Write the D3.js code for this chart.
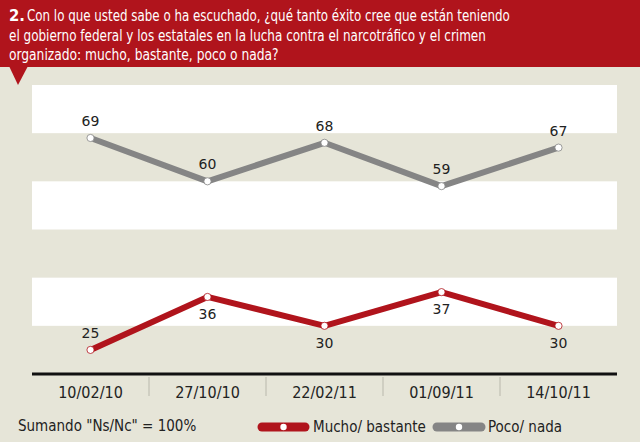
<!DOCTYPE html>
<html>
<head>
<meta charset="utf-8">
<script src="https://cdn.jsdelivr.net/npm/d3@7"></script>
<style>
  body { margin: 0; background: #e6e5d8; }
  svg { display: block; }
</style>
</head>
<body>
<div id="chart"></div>
<script>
(function() {
    const width = 640;
    const height = 442;
    const margin = { top: 85, right: 23, bottom: 68, left: 32 };

    // Données
    const dates = ["10/02/10", "27/10/10", "22/02/11", "01/09/11", "14/10/11"];
    const poco = [69, 60, 68, 59, 67];
    const mucho = [25, 36, 30, 37, 30];
    const muchoLabelBelow = [false, true, true, true, true];
    const bandStarts = [70, 50, 30];

    const titleLines = [
        { x: 27, text: "Con lo que usted sabe o ha escuchado, ¿qué tanto éxito cree que están teniendo", w: 483 },
        { x: 9, text: "el gobierno federal y los estatales en la lucha contra el narcotráfico y el crimen", w: 477 },
        { x: 9, text: "organizado: mucho, bastante, poco o nada?", w: 270 }
    ];

    const red = "#b0141c";
    const gray = "#858585";
    const bg = "#e6e5d8";
    const narrow = "'Liberation Sans Narrow', 'DejaVu Sans Condensed', sans-serif";

    const svg = d3.select("#chart").append("svg")
        .attr("width", width).attr("height", height);

    svg.append("rect").attr("width", width).attr("height", height).attr("fill", bg);

    // En-tête rouge
    svg.append("rect").attr("width", width).attr("height", 67).attr("fill", red);
    svg.append("path").attr("d", "M9,66 L28,66 L18,85 Z").attr("fill", red);

    svg.append("text")
        .attr("x", 9).attr("y", 21)
        .attr("fill", "#fff").attr("font-family", narrow)
        .attr("font-size", "16.5px").attr("font-weight", "bold")
        .text("2.");

    // Titre : compressé horizontalement pour coller à la largeur d'origine
    svg.selectAll(".title")
        .data(titleLines)
        .join("text")
        .attr("class", "title")
        .attr("fill", "#fff")
        .attr("font-family", narrow)
        .attr("font-size", "16.5px")
        .text(d => d.text)
        .each(function(d, i) {
            const natural = this.getComputedTextLength();
            d3.select(this).attr("transform",
                `translate(${d.x},${21 + i * 19.5}) scale(${d.w / natural},1)`);
        });

    const x = d3.scaleBand().domain(dates).range([margin.left, width - margin.right]);
    const y = d3.scaleLinear().domain([20, 80]).range([height - margin.bottom, margin.top]);

    // Bandes blanches
    svg.selectAll(".band")
        .data(bandStarts)
        .join("rect")
        .attr("class", "band")
        .attr("x", margin.left)
        .attr("width", width - margin.right - margin.left)
        .attr("y", d => y(d + 10))
        .attr("height", d => y(d) - y(d + 10))
        .attr("fill", "#fff");

    // Axe
    const axisY = y(20);
    const xAxis = svg.append("g")
        .attr("transform", `translate(0,${axisY})`)
        .call(d3.axisBottom(x).tickSize(0).tickPadding(13));
    xAxis.select(".domain").attr("stroke", "#111").attr("stroke-width", 3)
        .attr("d", `M${margin.left},0H${width - margin.right}`);
    xAxis.selectAll("text")
        .attr("font-family", narrow).attr("font-size", "16px").attr("fill", "#222");

    // Séparateurs
    svg.selectAll(".sep")
        .data(dates.slice(1))
        .join("line")
        .attr("class", "sep")
        .attr("x1", d => x(d)).attr("x2", d => x(d))
        .attr("y1", axisY + 3).attr("y2", axisY + 22)
        .attr("stroke", "#b9b8ac").attr("stroke-width", 1);

    const line = d3.line()
        .x((d, i) => x(dates[i]) + x.bandwidth() / 2)
        .y(d => y(d));

    function drawSeries(values, color, below) {
        svg.append("path")
            .datum(values)
            .attr("fill", "none")
            .attr("stroke", color)
            .attr("stroke-width", 6)
            .attr("stroke-linejoin", "round")
            .attr("stroke-linecap", "round")
            .attr("d", line);

        svg.selectAll(null)
            .data(values)
            .join("circle")
            .attr("cx", (d, i) => x(dates[i]) + x.bandwidth() / 2)
            .attr("cy", d => y(d))
            .attr("r", 3.6)
            .attr("fill", "#fff")
            .attr("stroke", color)
            .attr("stroke-width", 0.8);

        svg.selectAll(null)
            .data(values)
            .join("text")
            .attr("x", (d, i) => x(dates[i]) + x.bandwidth() / 2)
            .attr("y", (d, i) => y(d) + (below[i] ? 22 : -12))
            .attr("text-anchor", "middle")
            .attr("font-family", "'DejaVu Sans', sans-serif")
            .attr("font-size", "14px")
            .attr("fill", "#222")
            .text(d => d);
    }

    drawSeries(poco, gray, poco.map(() => false));
    drawSeries(mucho, red, muchoLabelBelow);

    // Légende
    svg.append("text")
        .attr("x", 18).attr("y", 431)
        .attr("font-family", narrow).attr("font-size", "15px").attr("fill", "#222")
        .text("Sumando \"Ns/Nc\" = 100%");

    const legendItems = [
        { label: "Mucho/ bastante", color: red, x0: 258, x1: 309, tx: 313 },
        { label: "Poco/ nada", color: gray, x0: 433, x1: 485, tx: 488 }
    ];
    const lg = svg.selectAll(".lg").data(legendItems).join("g").attr("class", "lg");
    lg.append("line")
        .attr("x1", d => d.x0 + 4).attr("x2", d => d.x1 - 4)
        .attr("y1", 427).attr("y2", 427)
        .attr("stroke", d => d.color).attr("stroke-width", 9).attr("stroke-linecap", "round");
    lg.append("circle")
        .attr("cx", d => (d.x0 + d.x1) / 2).attr("cy", 427).attr("r", 3.2).attr("fill", "#fff");
    lg.append("text")
        .attr("x", d => d.tx).attr("y", 432)
        .attr("font-family", narrow).attr("font-size", "15px").attr("fill", "#222")
        .text(d => d.label);
})();
</script>
</body>
</html>
